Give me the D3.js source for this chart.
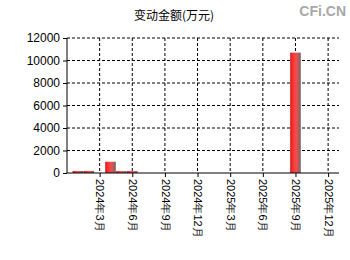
<!DOCTYPE html>
<html><head>
<meta charset="utf-8">
<script src="https://d3js.org/d3.v7.min.js"></script>
<style>
  body { margin: 0; background: #fff; }
  svg text { font-family: "Liberation Sans", Arial, sans-serif; }
  .grid line { stroke: #000; stroke-dasharray: 3,2; }
</style>
</head>
<body>
<svg id="chart" width="350" height="260"></svg>
<script>
// data (month index 0 = 2023-12)
let barMonths = [1, 2, 4, 5, 6, 21];
let barValues = [180, 180, 1000, 170, 170, 10700];
let tickMonths = [3, 6, 9, 12, 15, 18, 21, 24];
let tickLabels = ["2024年3月", "2024年6月", "2024年9月", "2024年12月", "2025年3月", "2025年6月", "2025年9月", "2025年12月"];
let yTicks = [0, 2000, 4000, 6000, 8000, 10000, 12000];

let svg = d3.select("#chart");
let plotLeft = 67, plotRight = 339, plotTop = 38, plotBottom = 173;

let x = d3.scaleLinear().domain([0, 25]).range([plotLeft, plotRight]);
let y = d3.scaleLinear().domain([0, 12000]).range([plotBottom, plotTop]);

// gradient for bars
let grad = svg.append("defs").append("linearGradient").attr("id", "barGrad")
  .attr("x1", "0%").attr("x2", "100%").attr("y1", "0%").attr("y2", "0%");
grad.append("stop").attr("offset", "0%").attr("stop-color", "#c81818");
grad.append("stop").attr("offset", "20%").attr("stop-color", "#ff2a2a");
grad.append("stop").attr("offset", "55%").attr("stop-color", "#f05050");
grad.append("stop").attr("offset", "80%").attr("stop-color", "#b85858");
grad.append("stop").attr("offset", "100%").attr("stop-color", "#686868");

// title + watermark
svg.append("text").attr("x", 174).attr("y", 20).attr("text-anchor", "middle")
  .style("font-size", "12px").style("font-family", "'Noto Sans CJK SC', sans-serif")
  .text("变动金额(万元)");
svg.append("text").attr("x", 346).attr("y", 16).attr("text-anchor", "end")
  .style("font-size", "14px").style("font-weight", "bold").attr("fill", "#a8a8a8")
  .text("CFi.CN");

// grid
let grid = svg.append("g").attr("class", "grid");
grid.selectAll(".h").data(yTicks.filter(d => d > 0)).enter().append("line")
  .attr("x1", plotLeft).attr("x2", plotRight).attr("y1", d => y(d)).attr("y2", d => y(d));
grid.selectAll(".v").data(tickMonths).enter().append("line")
  .attr("x1", d => x(d)).attr("x2", d => x(d)).attr("y1", plotTop).attr("y2", plotBottom);

// bars
let bw = 10.6;
svg.selectAll("rect.bar").data(barValues).enter().append("rect")
  .attr("class", "bar")
  .attr("x", (d, i) => x(barMonths[i]) - bw / 2)
  .attr("width", bw)
  .attr("y", d => y(d))
  .attr("height", d => plotBottom - y(d))
  .attr("fill", "url(#barGrad)");

// y axis
let yAxis = d3.axisLeft(y).tickValues(yTicks).tickSize(4).tickPadding(3).tickFormat(d3.format("d"));
let yg = svg.append("g").attr("transform", "translate(" + plotLeft + ",0)").call(yAxis);
yg.selectAll("text").style("font-size", "12px").attr("fill", "#000");
yg.select(".domain").attr("d", "M0," + plotTop + "V" + plotBottom);

// x axis
let xAxis = d3.axisBottom(x).tickValues(tickMonths).tickSize(4).tickFormat((d, i) => tickLabels[i]);
let xg = svg.append("g").attr("transform", "translate(0," + plotBottom + ")").call(xAxis);
xg.select(".domain").attr("d", "M" + plotLeft + ",0H" + plotRight);
xg.selectAll("text")
  .style("font-size", "11px").attr("fill", "#000")
  .attr("text-anchor", "start")
  .attr("transform", "rotate(90)")
  .attr("x", 6).attr("y", 0).attr("dy", "0.35em");
</script>
</body></html>
